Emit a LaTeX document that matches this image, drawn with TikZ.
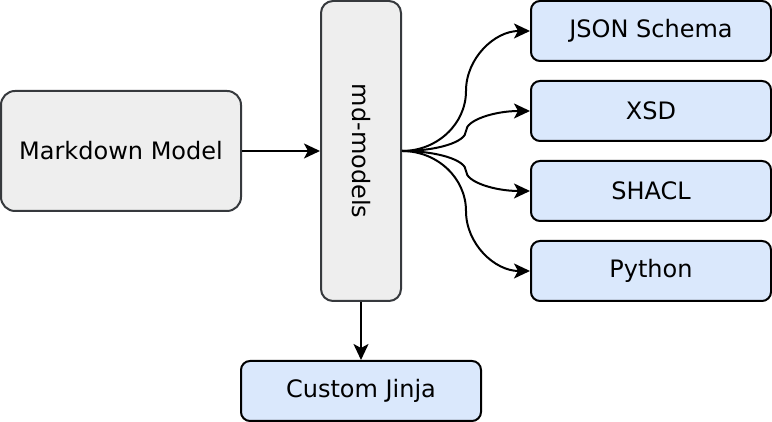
\documentclass[tikz,border=0pt]{standalone}
\usepackage{fontspec}
\setmainfont{DejaVu Sans}
\usetikzlibrary{arrows.meta,calc}
\definecolor{greyfill}{HTML}{EEEEEE}
\definecolor{greyline}{HTML}{36393D}
\definecolor{bluefill}{HTML}{DAE8FC}

\begin{document}
\begin{tikzpicture}[x=1pt,y=1pt,
    font=\fontsize{24}{28}\selectfont,
    greybox/.style={draw=greyline,fill=greyfill,line width=2pt,rounded corners=14pt,inner sep=0pt},
    bluebox/.style={draw=black,fill=bluefill,line width=2pt,rounded corners=9pt,
        minimum width=240pt,minimum height=60pt,inner sep=0pt},
    conn/.style={line width=2pt,-{Stealth[length=16pt,width=15pt,inset=4pt]}}]
\useasboundingbox (0,0) rectangle (772,422);

\node[greybox,minimum width=240pt,minimum height=120pt] (mm) at (121,271) {Markdown Model};
\node[greybox,minimum width=80pt,minimum height=300pt,rounded corners=12pt] (md) at (361,271) {};
\node[rotate=-90] (mdtext) at (md.center) {md-models};
\node[bluebox] (jinja) at (361,31) {Custom Jinja};

\draw[conn] (mm.east) -- (md.west);
\draw[conn] (md.south) -- (jinja.north);

\foreach \name/\txt/\y in {json/JSON Schema/391, xsd/XSD/311, shacl/SHACL/231, python/Python/151}{
    \node[bluebox] (\name) at (651,\y) {\txt};
    \coordinate (m\name) at ($(md.east)!0.5!(\name.west)$);
    \coordinate (a\name) at (m\name |- md.east);
    \coordinate (b\name) at (m\name |- \name.west);
    \draw[conn] (md.east) .. controls ($(md.east)!0.55!(a\name)$) and ($(m\name)!0.55!(a\name)$) .. (m\name)
        .. controls ($(m\name)!0.55!(b\name)$) and ($(\name.west)!0.55!(b\name)$) .. (\name.west);
}
\end{tikzpicture}
\end{document}
